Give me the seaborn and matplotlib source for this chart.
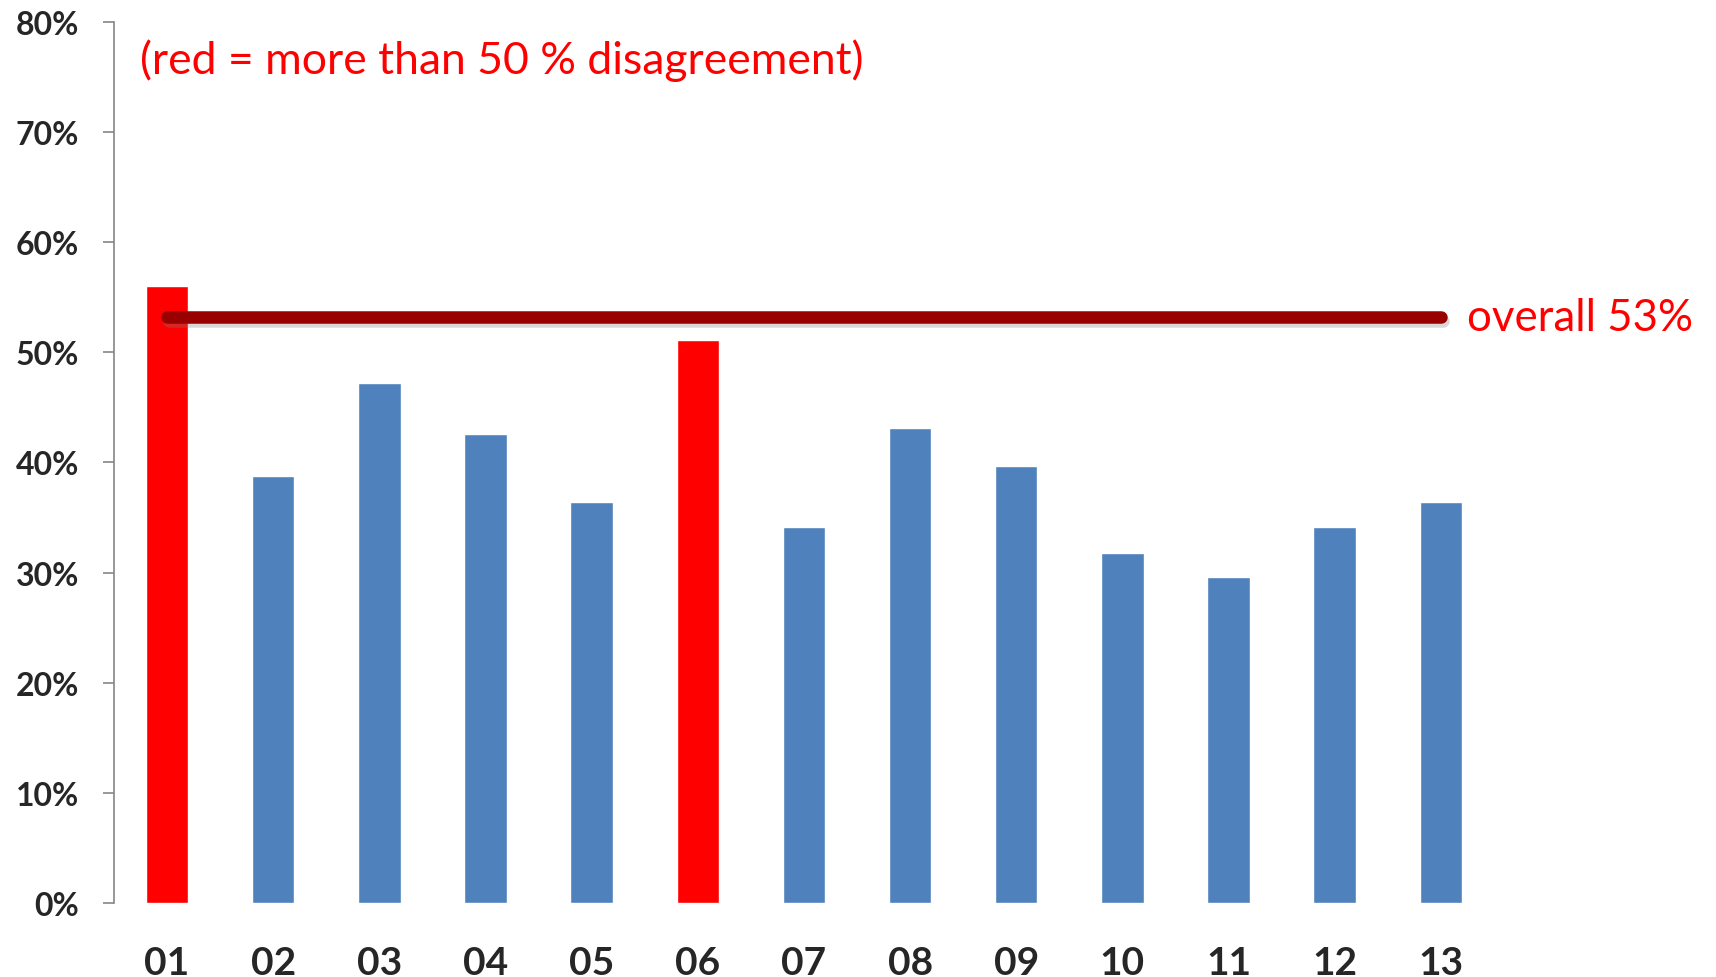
import matplotlib
matplotlib.use("Agg")
import matplotlib.pyplot as plt
import matplotlib.patheffects as pe
import seaborn as sns

# values (percent)
items = ["01", "02", "03", "04", "05", "06", "07", "08", "09", "10", "11", "12", "13"]
disagreement = [56.0, 38.8, 47.2, 42.6, 36.4, 51.1, 34.1, 43.1, 39.7, 31.8, 29.6, 34.1, 36.4]
overall = 53.2
y_ticks = [0, 10, 20, 30, 40, 50, 60, 70, 80]

red = "#FF0000"
blue = "#4F81BD"
bar_colors = [red if v > 50 else blue for v in disagreement]

sns.set_style("white")
plt.rcParams["font.family"] = ["Lato", "DejaVu Sans"]

fig = plt.figure(figsize=(17.16, 9.78), dpi=100)
ax = fig.add_axes([0.0664, 0.0757, 0.8042, 0.9008])

sns.barplot(x=items, y=disagreement, hue=items, palette=bar_colors,
            width=0.4, legend=False, saturation=1, ax=ax)

ax.plot([0, len(items) - 1], [overall, overall], color="#990000", lw=9,
        solid_capstyle="round",
        path_effects=[pe.SimpleLineShadow(offset=(1.5, -3), shadow_color="gray", alpha=0.3),
                      pe.Normal()])
ax.text(len(items) - 1 + 0.25, overall, "overall 53%", color=red, fontsize=31.5,
        va="center", ha="left")
ax.text(-0.25, 76.6, "(red = more than 50 % disagreement)", color=red, fontsize=32,
        va="center", ha="left")

ax.set_xlim(-0.5, len(items) - 0.5)
ax.set_ylim(0, 80)
ax.set_yticks(y_ticks)
ax.set_yticklabels([f"{t}%" for t in y_ticks], fontsize=23, fontweight="bold")
ax.set_xticks(range(len(items)))
ax.set_xticklabels(items, fontsize=28, fontweight="bold")
ax.tick_params(axis="y", length=8, width=1.2, color="#868686", pad=17, left=True)
ax.tick_params(axis="x", length=0, pad=30)

for side in ["top", "right", "bottom"]:
    ax.spines[side].set_visible(False)
ax.spines["left"].set_color("#868686")
ax.spines["left"].set_linewidth(1.2)
ax.set_xlabel("")
ax.set_ylabel("")

fig.savefig("out.png", dpi=100)
